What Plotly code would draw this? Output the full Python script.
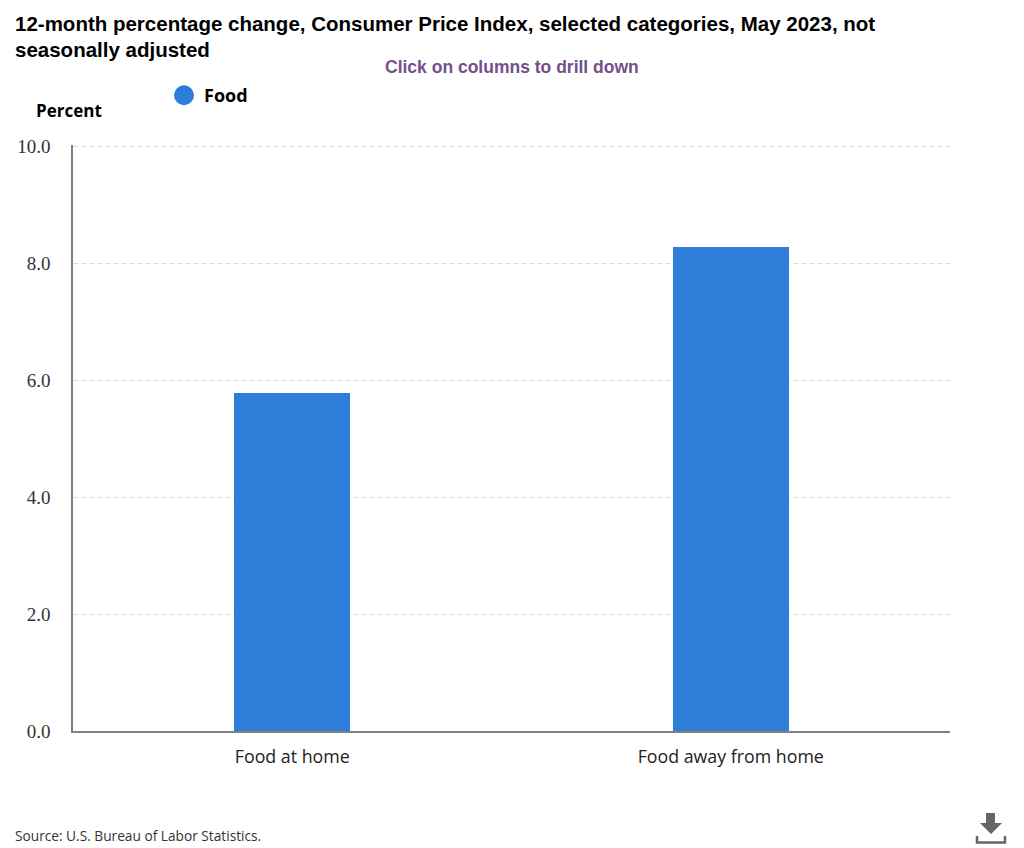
#!/usr/bin/env python3
import plotly.graph_objects as go

categories = ["Food at home", "Food away from home"]
values = [5.78, 8.28]
series_name = "<b>Food</b>"
y_ticks = [0, 2, 4, 6, 8, 10]

title_lines = ["<b>12-month percentage change, Consumer Price Index, selected categories, May 2023, not</b>",
               "<b>seasonally adjusted</b>"]
subtitle = "<b>Click on columns to drill down</b>"
source = "Source: U.S. Bureau of Labor Statistics."

# the page keeps its 8px body margin, so the figure sits at (8, 8)
OFF = 8
W, H = 1024 - OFF, 848 - OFF
L, R, T, B = 73 - OFF, 950 - OFF, 145 - OFF, 731 - OFF


def fx(x):
    return (x - OFF - L) / (R - L)


def fy(y):
    return (B - (y - OFF)) / (B - T)


def note(text, x, y, size, color="#000000", family="Open Sans", xanchor="left"):
    return dict(text=text, x=fx(x), y=fy(y), xref="paper", yref="paper", xanchor=xanchor,
                yanchor="middle", align="left", showarrow=False,
                font=dict(size=size, color=color, family=family))


fig = go.Figure()
fig.add_trace(go.Bar(x=categories, y=values, width=0.265, marker=dict(color="#2e7ed9", line=dict(width=0)),
                     showlegend=False, hovertemplate="%{x}: %{y:.1f}<extra></extra>"))
# bars only get square legend keys, so the round key comes from an empty marker trace
fig.add_trace(go.Scatter(x=[None], y=[None], mode="markers", name=series_name,
                         marker=dict(color="#2e7ed9", size=16, line=dict(color="#2e7ed9", width=4))))

fig.update_layout(
    width=W, height=H, margin=dict(l=L, r=W - R, t=T, b=H - B, autoexpand=False),
    paper_bgcolor="#ffffff", plot_bgcolor="#ffffff", bargap=0,
    legend=dict(x=fx(164), y=fy(95.5), xanchor="left", yanchor="middle", itemsizing="trace", itemwidth=30,
                font=dict(family="Open Sans", size=18, color="#000000"), bgcolor="rgba(0,0,0,0)"),
    annotations=[
        note(title_lines[0], 13, 24, 20.5, family="Liberation Sans"),
        note(title_lines[1], 13, 49, 20.5, family="Liberation Sans"),
        note(subtitle, 512, 67, 17.5, color="#74508a", family="Liberation Sans", xanchor="center"),
        note("<b>Percent</b>", 34, 110, 17),
        note(source, 13, 835, 13.7, color="#333333"),
    ],
    shapes=[
        # download icon
        dict(type="path", xref="paper", yref="paper", fillcolor="#666666", line=dict(width=0),
             path="M {} {} L {} {} L {} {} L {} {} L {} {} L {} {} L {} {} Z".format(
                 fx(986), fy(813), fx(995), fy(813), fx(995), fy(823), fx(1002), fy(823),
                 fx(991), fy(834), fx(980), fy(823), fx(986), fy(823))),
        dict(type="path", xref="paper", yref="paper", line=dict(width=2.5, color="#666666"),
             path="M {} {} L {} {} L {} {} L {} {}".format(
                 fx(977), fy(836), fx(977), fy(842.5), fx(1005), fy(842.5), fx(1005), fy(836))),
    ],
)
fig.update_xaxes(type="category", range=[-0.5, 1.5], showgrid=False, ticks="", showline=True,
                 linecolor="#808080", linewidth=2, tickfont=dict(family="Open Sans", size=17.8, color="#222222"),
                 ticklabelstandoff=9)
fig.update_yaxes(range=[0, 10.02], tickvals=y_ticks, tickformat=".1f", showline=True, linecolor="#808080",
                 linewidth=1.5, gridcolor="#dddddd", griddash="5px,3px", gridwidth=1, zeroline=False,
                 tickfont=dict(family="Liberation Serif", size=19, color="#333333"), ticks="", ticklabelstandoff=17)

fig.write_html("out.html")
